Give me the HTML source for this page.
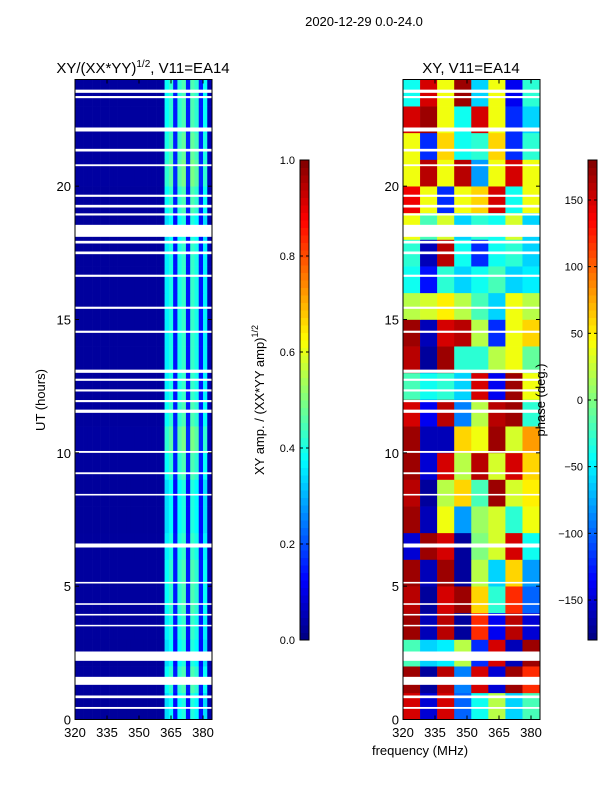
<!DOCTYPE html>
<html><head><meta charset="utf-8"><style>
body{margin:0;background:#fff;width:600px;height:800px;overflow:hidden;font-family:"Liberation Sans",sans-serif}
svg text{font-family:"Liberation Sans",sans-serif;fill:#000}
</style></head><body>
<svg id="fig" width="600" height="800" xmlns="http://www.w3.org/2000/svg">
<text x="364" y="26" font-size="13" text-anchor="middle">2020-12-29 0.0-24.0</text>
<text x="143" y="73" font-size="15" text-anchor="middle">XY/(XX*YY)<tspan font-size="10" dy="-6">1/2</tspan><tspan dy="6">, V11=EA14</tspan></text>
<text x="471" y="73" font-size="15" text-anchor="middle">XY, V11=EA14</text>
<g id="left"></g>
<g id="right"></g>
<g id="axes"></g>
<text transform="translate(45,400) rotate(-90)" font-size="13" text-anchor="middle">UT (hours)</text>
<text x="420" y="755" font-size="13" text-anchor="middle">frequency (MHz)</text>
<text transform="translate(264,400) rotate(-90)" font-size="13" text-anchor="middle">XY amp. / (XX*YY amp)<tspan font-size="9" dy="-6">1/2</tspan></text>
<text transform="translate(545,400) rotate(-90)" font-size="13" text-anchor="middle">phase (deg.)</text>
</svg>
<script>
const freqBins=[320,322,324,326,328,330,332,334,336,338,340,342,344,346,348,350,352,354,356,358,360,362,364,366,368,370,372,374,376,378,380,382];
const ampProfile=[0.03,0.03,0.03,0.03,0.03,0.03,0.03,0.03,0.03,0.03,0.03,0.03,0.03,0.03,0.03,0.03,0.03,0.03,0.03,0.03,0.03,0.38,0.42,0.15,0.42,0.45,0.15,0.45,0.42,0.15,0.38,0.05];
const hourScale=[0.9,1.0,0.9,0.95,1.0,1.0,0.95,0.9,0.9,1.0,1.1,1.0,0.95,0.95,0.95,0.95,0.95,0.95,0.9,1.0,1.1,1.05,1.0,1.0];
const flags=[[23.5,23.62],[23.3,23.38],[22.05,22.2],[21.3,21.4],[20.75,20.82],[19.6,19.68],[19.2,19.3],[18.9,18.98],[18.1,18.55],[17.85,17.95],[17.45,17.55],[16.6,16.68],[15.4,15.48],[14.5,14.58],[13.0,13.12],[12.7,12.78],[12.3,12.38],[11.9,11.98],[11.5,11.62],[10.0,10.07],[9.2,9.27],[8.4,8.46],[6.45,6.6],[5.1,5.16],[4.3,4.36],[3.9,3.96],[3.5,3.55],[2.2,2.55],[1.3,1.6],[0.8,0.9],[0.4,0.47]];
const phaseCols=[320,328,336,344,352,360,368,376];
const phaseGrid=[
[150,-150,150,-100,-40,20,-60,-20],[170,-170,160,-90,150,-150,170,120],[-20,-60,-50,20,-120,150,-160,170],
[170,-160,160,-170,120,-140,160,-150],[160,-170,150,170,60,-30,120,-100],[170,-160,170,-170,20,-60,60,-80],
[-150,170,150,-170,0,30,150,-40],[170,-160,40,-80,10,30,-30,40],[160,-170,20,60,-20,170,30,50],
[170,-150,150,20,160,30,150,60],[170,-160,-160,60,40,170,30,80],[150,-140,160,-90,20,160,170,-30],
[-20,-40,-30,-60,150,-140,170,40],[160,-170,170,-30,-30,20,40,-10],[170,-160,150,160,20,-120,40,60],
[20,30,50,20,-20,-60,40,20],[-40,-130,-30,-60,-40,-20,-60,-50],[-30,-160,160,-40,-120,-40,-30,-60],
[40,-20,30,-60,-30,-40,30,-60],[140,40,-120,40,60,150,-40,40],[40,160,40,160,-80,40,150,40],
[40,-120,60,-40,-30,60,-120,-30],[150,170,40,-40,150,40,-120,-60],[-40,150,40,170,-60,40,-140,-30]];
const xTicks=[320,335,350,365,380];
const yTicks=[0,5,10,15,20];
const ampTicks=[0.0,0.2,0.4,0.6,0.8,1.0];
const phaseTicks=[-150,-100,-50,0,50,100,150];

const NS="http://www.w3.org/2000/svg";
const B=719.5,TOP=79.5;
const yS=h=>B-(h/24)*(B-TOP);
const xL=f=>75+(f-320)*128/60;
const xR=f=>403+(f-320)*128/60;
function jet(v){v=Math.max(0,Math.min(1,v));
 const r=Math.max(0,Math.min(1,1.5-Math.abs(4*v-3))),g=Math.max(0,Math.min(1,1.5-Math.abs(4*v-2))),b=Math.max(0,Math.min(1,1.5-Math.abs(4*v-1)));
 return `rgb(${Math.round(r*255)},${Math.round(g*255)},${Math.round(b*255)})`;}
function mk(p,tag,at){const e=document.createElementNS(NS,tag);for(const k in at)e.setAttribute(k,at[k]);p.appendChild(e);return e;}
const L=document.getElementById('left'),R=document.getElementById('right'),A=document.getElementById('axes');
hourScale.forEach((s,h)=>{freqBins.forEach((f,c)=>{
 const r=mk(L,'rect',{x:xL(f),y:yS(h+1),width:xL(f+2)-xL(f)+0.3,height:yS(h)-yS(h+1)+0.3,fill:jet(ampProfile[c]*s)});
 
 
});});
phaseGrid.forEach((row,h)=>{row.forEach((v,c)=>{
 const f=phaseCols[c];
 const r=mk(R,'rect',{x:xR(f),y:yS(h+1),width:xR(f+8)-xR(f)+0.3,height:yS(h)-yS(h+1)+0.3,fill:jet((v+180)/360)});
 
 
});});
flags.forEach(([a,b])=>{[L,R].forEach((g,i)=>{
 const x0=i?xR(320):xL(320);
 const r=mk(g,'rect',{x:x0,y:yS(b),width:137,height:Math.max(1.5,yS(a)-yS(b)),fill:'#fff'});
 
 
});});
[[75,xL],[403,xR]].forEach(([x0,xf])=>{
 mk(A,'rect',{x:x0,y:TOP,width:137,height:B-TOP,fill:'none',stroke:'#000','stroke-width':1});
 xTicks.forEach(t=>{const x=xf(t);mk(A,'line',{x1:x,x2:x,y1:B,y2:B-4,stroke:'#000'});mk(A,'line',{x1:x,x2:x,y1:TOP,y2:TOP+4,stroke:'#000'});
  const tx=mk(A,'text',{x:x,y:737,'font-size':13,'text-anchor':'middle'});tx.textContent=t;
  
  });
 yTicks.forEach(t=>{const y=yS(t);mk(A,'line',{x1:x0,x2:x0+4,y1:y,y2:y,stroke:'#000'});mk(A,'line',{x1:x0+137,x2:x0+133,y1:y,y2:y,stroke:'#000'});
  const tx=mk(A,'text',{x:x0-4,y:y+5,'font-size':13,'text-anchor':'end'});tx.textContent=t;
  
  });
});
function cbar(x0,ticks,lo,hi,fmt){
 const top=160,bot=640,n=64;
 for(let i=0;i<n;i++){mk(A,'rect',{x:x0,y:bot-(i+1)*(bot-top)/n,width:9,height:(bot-top)/n+0.5,fill:jet((i+0.5)/n)});}
 mk(A,'rect',{x:x0,y:top,width:9,height:bot-top,fill:'none',stroke:'#000'});
 ticks.forEach(t=>{const y=bot-(t-lo)/(hi-lo)*(bot-top);mk(A,'line',{x1:x0,x2:x0+3,y1:y,y2:y,stroke:'#000'});mk(A,'line',{x1:x0+9,x2:x0+6,y1:y,y2:y,stroke:'#000'});
  const tx=mk(A,'text',{x:x0-5,y:y+4,'font-size':11,'text-anchor':'end'});tx.textContent=fmt(t);
  
  });
}
cbar(300,ampTicks,0,1,t=>t.toFixed(1));
cbar(588,phaseTicks,-180,180,t=>t<0?'\u2212'+(-t):''+t);
</script>
</body></html>
